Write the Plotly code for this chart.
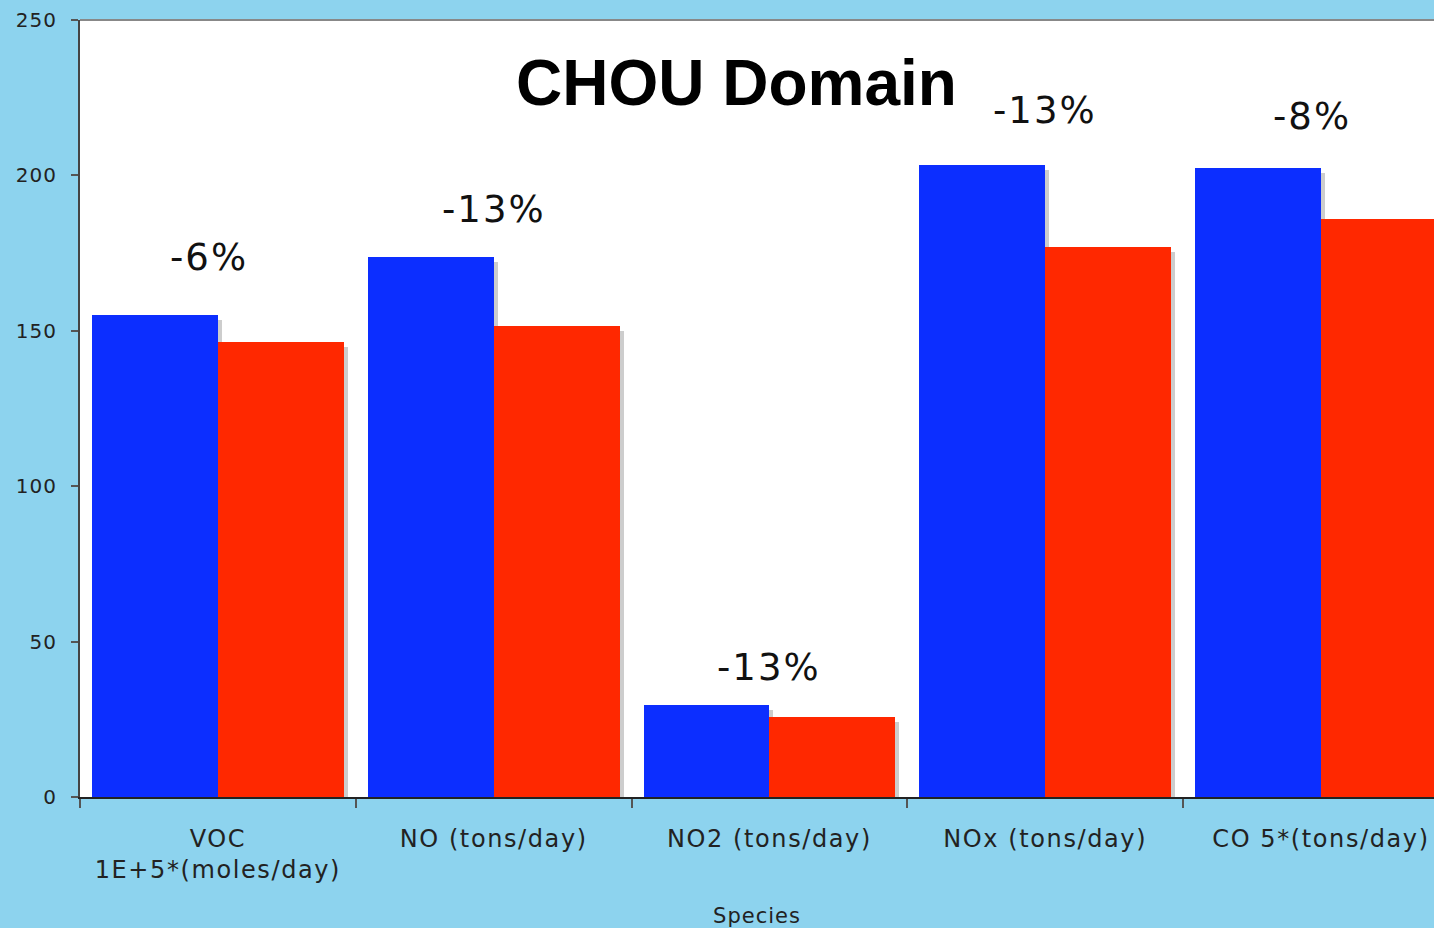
import plotly.graph_objects as go

categories = ["VOC<br>1E+5*(moles/day)", "NO (tons/day)", "NO2 (tons/day)", "NOx (tons/day)", "CO 5*(tons/day)"]
base_case = [155.0, 173.8, 29.6, 203.3, 202.4]
control_case = [146.4, 151.5, 25.7, 177.0, 186.0]
pct_labels = ["-6%", "-13%", "-13%", "-13%", "-8%"]
pct_label_y = [173.5, 189.0, 41.8, 221.0, 219.0]
y_ticks = [0, 50, 100, 150, 200, 250]

BLUE = "#0C2EFF"
RED = "#FF2800"
SHADOW = "#CDCDCD"
BG = "#8DD3EE"
FONT = "DejaVu Sans"

W = 0.4565          # bar width in category units
SH_X = 0.0145       # shadow shift (category units)
SH_Y = 1.6          # shadow drop (data units)

fig = go.Figure()
# shadows
fig.add_trace(go.Bar(x=categories, y=[v - SH_Y for v in base_case], width=W, offset=-W + SH_X,
                     marker=dict(color=SHADOW, line=dict(width=0)), hoverinfo="skip", showlegend=False))
fig.add_trace(go.Bar(x=categories, y=[v - SH_Y for v in control_case], width=W, offset=SH_X,
                     marker=dict(color=SHADOW, line=dict(width=0)), hoverinfo="skip", showlegend=False))
# bars
fig.add_trace(go.Bar(x=categories, y=base_case, width=W, offset=-W,
                     marker=dict(color=BLUE, line=dict(width=0)), name="Base", showlegend=False))
fig.add_trace(go.Bar(x=categories, y=control_case, width=W, offset=0,
                     marker=dict(color=RED, line=dict(width=0)), name="Control", showlegend=False))

xshifts = [-9, 0, 0, 0, -9]
for c, t, yy, xs in zip(categories, pct_labels, pct_label_y, xshifts):
    fig.add_annotation(x=c, y=yy, text=t, showarrow=False, xshift=xs,
                       font=dict(family=FONT, size=37, color="#111111"),
                       xanchor="center", yanchor="middle")

fig.add_annotation(x=0.4845, y=0.919, xref="paper", yref="paper", text="<b>CHOU Domain</b>",
                   showarrow=False, font=dict(family="Liberation Sans", size=64, color="#000000"),
                   xanchor="center", yanchor="middle")

fig.update_layout(
    width=1434, height=928,
    paper_bgcolor=BG, plot_bgcolor="#FFFFFF",
    margin=dict(l=80, r=0, t=20, b=131),
    barmode="overlay",
    bargap=0,
    font=dict(family=FONT, color="#222222"),
)
fig.update_xaxes(
    range=[-0.5, 4.41],
    tickson="boundaries", ticks="outside", ticklen=9, tickwidth=2, tickcolor="#555555",
    showline=True, linecolor="#222222", linewidth=2, mirror=False,
    tickfont=dict(family=FONT, size=24, color="#222222"),
    ticklabelstandoff=19,
    title=dict(text="Species", font=dict(family=FONT, size=21, color="#222222"), standoff=26),
    showgrid=False, zeroline=False,
)
fig.update_yaxes(
    range=[0, 250], tickvals=y_ticks,
    ticks="outside", ticklen=7, tickwidth=2, tickcolor="#555555",
    showline=True, linecolor="#444444", linewidth=2,
    tickfont=dict(family=FONT, size=20, color="#222222"),
    ticklabelstandoff=10,
    showgrid=False, zeroline=False,
)
# top border line of plot area
fig.add_shape(type="line", xref="paper", yref="paper", x0=0, x1=1, y0=1, y1=1,
              line=dict(color="#888888", width=2))

post = """
document.body.style.margin='0';
document.body.style.overflow='hidden';
var gd = document.getElementById('{plot_id}');
function spaceText(){
  gd.querySelectorAll('.xtick text').forEach(function(t){t.style.letterSpacing='1.6px';});
  gd.querySelectorAll('.ytick text').forEach(function(t){t.style.letterSpacing='1px';});
  gd.querySelectorAll('.xtitle').forEach(function(t){t.style.letterSpacing='1px';});
  gd.querySelectorAll('.annotation-text').forEach(function(t){
    if (t.textContent.indexOf('CHOU') < 0) { t.style.letterSpacing='2px'; }
  });
}
spaceText();
gd.on('plotly_afterplot', spaceText);
"""

fig.write_html("out.html", post_script=post, config={"displayModeBar": False})
